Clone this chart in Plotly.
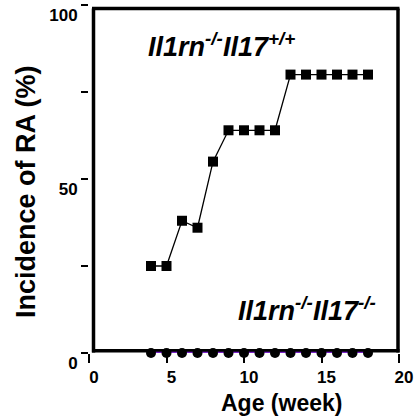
import plotly.graph_objects as go

weeks = [4, 5, 6, 7, 8, 9, 10, 11, 12, 13, 14, 15, 16, 17, 18]
incidence_wt = [25, 25, 38, 36, 55, 64, 64, 64, 64, 80, 80, 80, 80, 80, 80]
incidence_ko = [0] * 15
x_ticks = [0, 5, 10, 15, 20]
x_ticktext = ["0", "5", "10", "15", "20"]
y_ticks = [0, 25, 50, 75, 100]
y_ticktext = ["0", "", "50", "", "100"]

W, H = 417, 418
L, R, T, B = 89, 18, 5, 65
pw, ph = W - L - R, H - T - B

def px_x(p):
    return (p - L) / pw

def px_y(p):
    return (H - B - p) / ph

FONT = "Liberation Sans, Arial, sans-serif"

fig = go.Figure()
fig.add_trace(go.Scatter(
    x=weeks, y=incidence_ko, mode="lines+markers",
    line=dict(color="#7a22c8", width=2.5),
    marker=dict(symbol="circle", size=10, color="black"),
    cliponaxis=False, showlegend=False))
fig.add_trace(go.Scatter(
    x=weeks, y=incidence_wt, mode="lines+markers",
    line=dict(color="black", width=1.3),
    marker=dict(symbol="square", size=10, color="black"),
    cliponaxis=False, showlegend=False))

frame = dict(type="line", xref="paper", yref="paper", line=dict(color="black", width=3.5), layer="below")
fig.add_shape(**frame, x0=px_x(93.5), x1=px_x(93.5), y0=px_y(352.5), y1=px_y(8.5))
fig.add_shape(**frame, x0=px_x(92), x1=px_x(399.5), y0=px_y(8.5), y1=px_y(8.5))
fig.add_shape(**frame, x0=px_x(398), x1=px_x(398), y0=px_y(8.5), y1=px_y(352.5))
fig.add_shape(**frame, x0=px_x(92), x1=px_x(399.5), y0=px_y(350.8), y1=px_y(350.8))

fig.update_layout(
    width=W, height=H, margin=dict(l=L, r=R, t=T, b=B),
    plot_bgcolor="white", paper_bgcolor="white",
    font=dict(family=FONT, color="black"),
    xaxis=dict(range=[0, 20], tickvals=x_ticks, ticktext=["<b>%s</b>" % t for t in x_ticktext],
               ticks="outside", ticklen=9, tickwidth=1.5,
               tickcolor="black", showgrid=False, zeroline=False, showline=False,
               tickfont=dict(size=17, family=FONT), ticklabelshift=5),
    yaxis=dict(range=[0, 100], tickvals=y_ticks, ticktext=["<b>%s</b>" % t if t else "" for t in y_ticktext],
               ticks="outside", ticklen=7,
               tickwidth=1.5, tickcolor="black", showgrid=False, zeroline=False, showline=False,
               tickfont=dict(size=17, family=FONT), ticklabelshift=10,
               ticklabelstandoff=0),
)

fig.add_annotation(text="<b>Incidence of RA (%)</b>", xref="paper", yref="paper",
                   x=px_x(26), y=px_y(192), textangle=-90, showarrow=False,
                   xanchor="center", yanchor="middle", font=dict(size=27, family=FONT))
fig.add_annotation(text="<b>Age (week)</b>", xref="paper", yref="paper",
                   x=px_x(281.5), y=px_y(403), showarrow=False,
                   xanchor="center", yanchor="middle", font=dict(size=23, family=FONT))
fig.add_annotation(text="<b><i>Il1rn<sup>-/-</sup>Il17<sup>+/+</sup></i></b>", xref="paper", yref="paper",
                   x=px_x(221), y=px_y(45), showarrow=False,
                   xanchor="center", yanchor="middle", font=dict(size=27, family=FONT))
fig.add_annotation(text="<b><i>Il1rn<sup>-/-</sup>Il17<sup>-/-</sup></i></b>", xref="paper", yref="paper",
                   x=px_x(307), y=px_y(309), showarrow=False,
                   xanchor="center", yanchor="middle", font=dict(size=27, family=FONT))

fig.write_html("out.html")
